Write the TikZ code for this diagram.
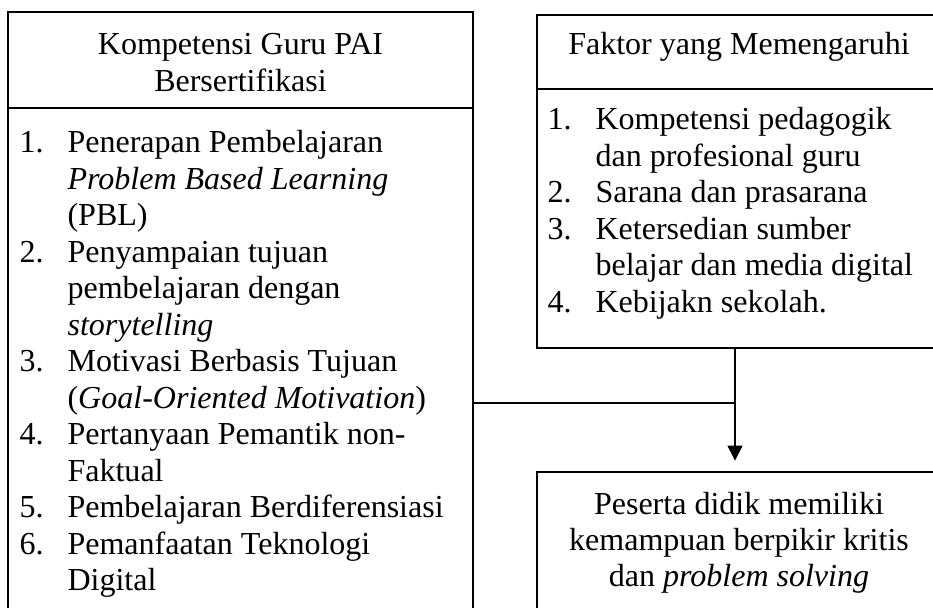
\documentclass[tikz,border=0pt]{standalone}
\usepackage{fontspec}
\setmainfont{Liberation Serif}
\usetikzlibrary{arrows.meta, fit}

\begin{document}
\begin{tikzpicture}[
    x=0.381pt, y=-0.381pt,
    box/.style={draw, rectangle, line width=1.1pt, inner sep=0pt},
    txt/.style={inner sep=0pt, font=\fontsize{12.2pt}{13.9pt}\selectfont},
    line/.style={line width=0.45pt},
    arrow/.style={-{Triangle[length=5.7pt, width=5.7pt]}, line width=0.45pt}
]
\useasboundingbox (0,0) rectangle (933,607);
\clip (0,0) rectangle (933,607);

% Kotak kiri
\node[box, fit={(8,12) (473,108)}] (guruhead) {};
\node[box, fit={(8,108) (473,700)}] (gurulist) {};
\node[txt, anchor=base] (gurutitle) at (240.5,55) {\begin{tabular}[t]{@{}c@{}}Kompetensi Guru PAI\\Bersertifikasi\end{tabular}};
\node[txt, anchor=base west] (guruitems) at (19,153) {\begin{tabular}[t]{@{}p{18.3pt}@{}l@{}}
1. & Penerapan Pembelajaran\\
   & \textit{Problem Based Learning}\\
   & (PBL)\\
2. & Penyampaian tujuan\\
   & pembelajaran dengan\\
   & \textit{storytelling}\\
3. & Motivasi Berbasis Tujuan\\
   & (\textit{Goal-Oriented Motivation})\\
4. & Pertanyaan Pemantik non-\\
   & Faktual\\
5. & Pembelajaran Berdiferensiasi\\
6. & Pemanfaatan Teknologi\\
   & Digital
\end{tabular}};

% Kotak kanan atas
\node[box, fit={(537,15) (941,89)}] (faktorhead) {};
\node[box, fit={(537,89) (941,348)}] (faktorlist) {};
\node[txt, anchor=base] (faktortitle) at (739,55) {Faktor yang Memengaruhi};
\node[txt, anchor=base west] (faktoritems) at (547,130) {\begin{tabular}[t]{@{}p{18.3pt}@{}l@{}}
1. & Kompetensi pedagogik\\
   & dan profesional guru\\
2. & Sarana dan prasarana\\
3. & Ketersedian sumber\\
   & belajar dan media digital\\
4. & Kebijakn sekolah.
\end{tabular}};

% Kotak kanan bawah
\node[box, fit={(537,472) (941,700)}] (hasil) {};
\node[txt, anchor=base] (hasiltext) at (739,514) {\begin{tabular}[t]{@{}c@{}}Peserta didik memiliki\\kemampuan berpikir kritis\\dan \textit{problem solving}\end{tabular}};

% Garis penghubung
\coordinate (join) at (735,403);
\draw[line] (gurulist.east |- join) -- (join);
\draw[arrow, shorten >=3.8pt] (faktorlist.south -| join) -- (hasil.north -| join);

\end{tikzpicture}
\end{document}
